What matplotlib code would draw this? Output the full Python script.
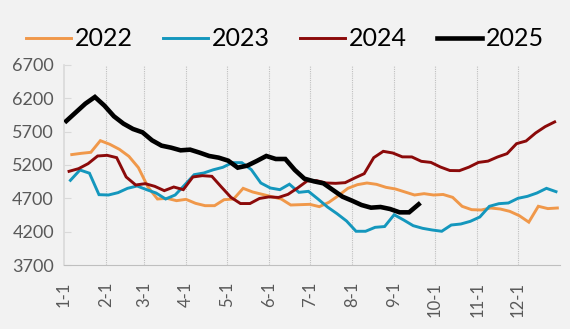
import matplotlib.pyplot as plt
import numpy as np
import pandas as pd

# weekly prices (Friday readings), one list per year
v2022 = [5356, 5375, 5390, 5565, 5510, 5435, 5330, 5160, 4870, 4690,
         4700, 4665, 4685, 4625, 4590, 4590, 4680, 4690, 4850, 4795,
         4760, 4725, 4690, 4600, 4605, 4610, 4575, 4640, 4740, 4850,
         4905, 4930, 4910, 4865, 4840, 4795, 4750, 4770, 4750, 4758,
         4715, 4580, 4530, 4525, 4555, 4540, 4505, 4440, 4343, 4581,
         4546, 4555]
v2023 = [4970, 5125, 5077, 4755, 4750, 4785, 4850, 4885, 4830, 4780,
         4690, 4750, 4900, 5055, 5080, 5128, 5165, 5235, 5235, 5130,
         4930, 4855, 4830, 4912, 4790, 4805, 4690, 4570, 4470, 4360,
         4206, 4206, 4265, 4277, 4454, 4375, 4290, 4250, 4225, 4206,
         4300, 4315, 4355, 4420, 4580, 4620, 4630, 4700, 4730, 4780,
         4850, 4800]
v2024 = [5105, 5145, 5220, 5335, 5345, 5310, 5020, 4900, 4920, 4880,
         4815, 4870, 4830, 5020, 5040, 5030, 4870, 4715, 4622, 4622,
         4698, 4722, 4713, 4760, 4855, 4960, 4965, 4930, 4925, 4935,
         5005, 5070, 5310, 5405, 5380, 5322, 5321, 5255, 5239, 5170,
         5117, 5115, 5168, 5239, 5258, 5320, 5370, 5520, 5560, 5680,
         5775, 5846]
v2025 = [5860, 5990, 6120, 6220, 6090, 5930, 5820, 5740, 5690, 5570,
         5490, 5460, 5420, 5430, 5385, 5335, 5310, 5265, 5160, 5190,
         5260, 5335, 5290, 5290, 5125, 4995, 4955, 4925, 4825, 4725,
         4665, 4600, 4560, 4570, 4540, 4490, 4490, 4610]

first_fri = {'2022': '2022-01-07', '2023': '2023-01-06',
             '2024': '2024-01-05', '2025': '2025-01-03'}
values = {'2022': v2022, '2023': v2023, '2024': v2024, '2025': v2025}
colors = {'2022': '#f0984a', '2023': '#1497bd', '2024': '#8b0a0a', '2025': '#000000'}
widths = {'2022': 2.1, '2023': 2.1, '2024': 2.1, '2025': 3.3}

month_days = [0, 31, 59, 90, 120, 151, 181, 212, 243, 273, 304, 334]
month_labels = ['%d-1' % m for m in range(1, 13)]
y_ticks = [3700, 4200, 4700, 5200, 5700, 6200, 6700]

bg = '#f2f2f2'
fig = plt.figure(figsize=(5.7, 3.29), dpi=100, facecolor=bg)
ax = fig.add_axes([0.1116, 0.1945, 0.871, 0.608], facecolor=bg)

for yr, vals in values.items():
    dates = pd.date_range(first_fri[yr], periods=len(vals), freq='7D')
    x = dates.dayofyear.values - 1
    ax.plot(x, vals, color=colors[yr], lw=widths[yr], label=yr,
            solid_joinstyle='miter', zorder=3)

ax.set_xlim(0, 365)
ax.set_ylim(3700, 6700)
ax.set_yticks(y_ticks)
ax.set_xticks(month_days)
ax.set_xticklabels(month_labels, rotation=90, fontsize=12, color='#595959',
                   family='Lato')
ax.set_yticklabels([str(v) for v in y_ticks], fontsize=13, color='#595959',
                   family='Lato')

# dotted month separators
for d in month_days[1:]:
    ax.axvline(d, color='#c0c0c0', lw=0.8, ls=(0, (1, 1)), zorder=1)

for s in ['top', 'right']:
    ax.spines[s].set_visible(False)
ax.spines['left'].set_color('#d9d9d9')
ax.spines['left'].set_linewidth(1.2)
ax.spines['bottom'].set_color('#bfbfbf')
ax.spines['bottom'].set_linestyle((0, (1, 1)))
ax.spines['bottom'].set_linewidth(0.8)
ax.tick_params(axis='y', direction='in', length=5, color='#d9d9d9', pad=7)
ax.tick_params(axis='x', length=0, pad=12)

fig.legend(loc='upper center', bbox_to_anchor=(0.5, 0.985), ncol=4,
           frameon=False, prop={'family': 'Lato', 'size': 18},
           handlelength=1.8, handletextpad=0.15, columnspacing=1.2)

fig.savefig('out.png', dpi=100, facecolor=bg)
